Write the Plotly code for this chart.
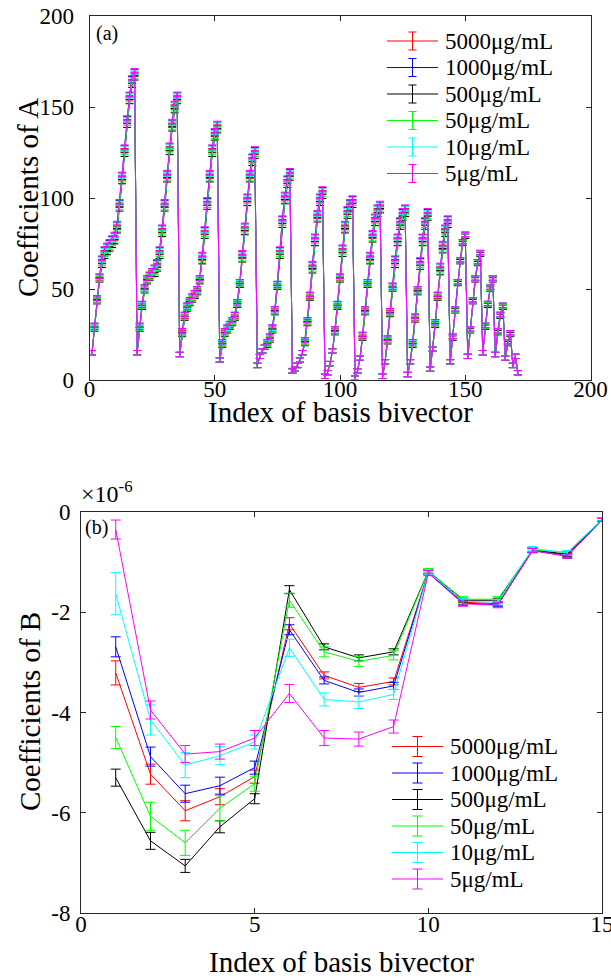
import plotly.graph_objects as go

FONT = "Liberation Serif"
W, H = 611, 978

series_labels = ["5000μg/mL", "1000μg/mL", "500μg/mL", "50μg/mL", "10μg/mL", "5μg/mL"]
series_colors = ["#ff0000", "#0000ff", "#000000", "#00ff00", "#00ffff", "#ff00ff"]

# ---------------- panel (a): coefficients of A ----------------
index_a = list(range(1, 172))

coef_a_5000 = [
    15, 29, 44, 56, 65, 70, 72, 74, 76, 78, 84, 96, 111, 126, 142, 155, 164, 168,
    15, 29, 41, 50, 55, 57, 59, 60, 63, 70, 82, 96, 112, 127, 140, 150, 155,
    14, 26, 35, 40, 43, 45, 47, 49, 55, 67, 81, 97, 112, 126, 135, 139,
    11, 20, 26, 28, 30, 32, 35, 42, 53, 68, 83, 99, 112, 121, 125,
    8, 13, 16, 18, 20, 23, 28, 38, 52, 70, 87, 100, 109, 113,
    5, 6, 8, 11, 15, 21, 32, 46, 62, 77, 90, 99, 103,
    2, 4, 9, 16, 27, 41, 56, 71, 84, 92, 96, 98,
    1, 5, 12, 24, 38, 53, 67, 79, 88, 93, 95,
    2, 10, 22, 37, 51, 65, 77, 86, 91, 93,
    3, 10, 20, 34, 49, 64, 77, 86, 91,
    6, 17, 31, 46, 61, 73, 82, 87,
    10, 24, 39, 54, 66, 76, 80,
    13, 28, 44, 56, 65, 70,
    15, 30, 42, 51, 56,
    14, 27, 36, 41,
    12, 21, 26,
    8, 13,
    4,
]
coef_a_1000 = [
    15, 30, 45, 57, 66.5, 71.5, 73.5, 75.5, 77.5, 79.5, 85.5, 97.5, 112.5, 127.5, 143.5, 156.5, 165.5, 169.5,
    15, 30, 42, 51, 56, 58, 60, 61.5, 64.5, 71.5, 83.5, 97.5, 113.5, 128.5, 141.5, 151.5, 156.5,
    14, 27, 36, 41, 44, 46, 48, 50, 56, 68.5, 82.5, 98.5, 113.5, 127.5, 136.5, 140.5,
    11, 21, 27, 29, 31, 33, 36, 43, 54, 69.5, 84.5, 100.5, 113.5, 122.5, 126.5,
    8, 13, 16, 18, 21, 24, 29, 39, 53, 71.5, 88.5, 101.5, 110.5, 114.5,
    5, 6, 8, 11, 15, 22, 33, 47, 63.5, 78.5, 91.5, 100.5, 104.5,
    2, 4, 9, 16, 28, 42, 57, 72.5, 85.5, 93.5, 97.5, 99.5,
    1, 5, 12, 25, 39, 54, 68.5, 80.5, 89.5, 94.5, 96.5,
    2, 10, 23, 38, 52, 66.5, 78.5, 87.5, 92.5, 94.5,
    3, 10, 21, 35, 50, 65.5, 78.5, 87.5, 92.5,
    6, 17, 32, 47, 62.5, 74.5, 83.5, 88.5,
    10, 24, 39, 54, 66, 76, 80,
    13, 28, 44, 56, 65, 70,
    15, 30, 42, 51, 56,
    14, 27, 36, 41,
    12, 21, 26,
    8, 13,
    4,
]
coef_a_500 = [
    15, 28, 43, 55, 63, 68, 70, 72, 74, 76, 82, 94, 109, 124, 140, 153, 162, 166,
    15, 28, 40, 49, 54, 56, 58, 58, 61, 68, 80, 94, 110, 125, 138, 148, 153,
    14, 25, 34, 39, 42, 44, 46, 48, 54, 65, 79, 95, 110, 124, 133, 137,
    11, 19, 25, 27, 29, 31, 34, 41, 52, 66, 81, 97, 110, 119, 123,
    8, 13, 16, 18, 19, 22, 27, 37, 51, 68, 85, 98, 107, 111,
    5, 6, 8, 11, 15, 20, 31, 45, 60, 75, 88, 97, 101,
    2, 4, 9, 16, 26, 40, 55, 69, 82, 90, 94, 96,
    1, 5, 12, 23, 37, 52, 65, 77, 86, 91, 93,
    2, 10, 21, 36, 50, 63, 75, 84, 89, 91,
    3, 10, 19, 33, 48, 62, 75, 84, 89,
    6, 17, 30, 45, 59, 71, 80, 85,
    10, 23, 38, 53, 65, 75, 79,
    13, 27, 43, 55, 64, 69,
    15, 29, 41, 50, 55,
    14, 26, 35, 40,
    12, 20, 25,
    8, 13,
    4,
]
coef_a_50 = [
    15, 28.5, 43.5, 55.5, 64, 69, 71, 73, 75, 77, 83, 95, 110, 125, 141, 154, 163, 167,
    15, 28.5, 40.5, 49.5, 54.5, 56.5, 58.5, 59, 62, 69, 81, 95, 111, 126, 139, 149, 154,
    14, 25.5, 34.5, 39.5, 42.5, 44.5, 46.5, 48.5, 54.5, 66, 80, 96, 111, 125, 134, 138,
    11, 19.5, 25.5, 27.5, 29.5, 31.5, 34.5, 41.5, 52.5, 67, 82, 98, 111, 120, 124,
    8, 13, 16, 18, 19.5, 22.5, 27.5, 37.5, 51.5, 69, 86, 99, 108, 112,
    5, 6, 8, 11, 15, 20.5, 31.5, 45.5, 61, 76, 89, 98, 102,
    2, 4, 9, 16, 26.5, 40.5, 55.5, 70, 83, 91, 95, 97,
    1, 5, 12, 23.5, 37.5, 52.5, 66, 78, 87, 92, 94,
    2, 10, 21.5, 36.5, 50.5, 64, 76, 85, 90, 92,
    3, 10, 19.5, 33.5, 48.5, 63, 76, 85, 90,
    6, 17, 30.5, 45.5, 60, 72, 81, 86,
    10, 23.5, 38.5, 53.5, 65.5, 75.5, 79.5,
    13, 27.5, 43.5, 55.5, 64.5, 69.5,
    15, 29.5, 41.5, 50.5, 55.5,
    14, 26.5, 35.5, 40.5,
    12, 20.5, 25.5,
    8, 13,
    4,
]
coef_a_10 = [
    15, 29.5, 44.5, 56.5, 66, 71, 73, 75, 77, 79, 85, 97, 112, 127, 143, 156, 165, 169,
    15, 29.5, 41.5, 50.5, 55.5, 57.5, 59.5, 61, 64, 71, 83, 97, 113, 128, 141, 151, 156,
    14, 26.5, 35.5, 40.5, 43.5, 45.5, 47.5, 49.5, 55.5, 68, 82, 98, 113, 127, 136, 140,
    11, 20.5, 26.5, 28.5, 30.5, 32.5, 35.5, 42.5, 53.5, 69, 84, 100, 113, 122, 126,
    8, 13, 16, 18, 20.5, 23.5, 28.5, 38.5, 52.5, 71, 88, 101, 110, 114,
    5, 6, 8, 11, 15, 21.5, 32.5, 46.5, 63, 78, 91, 100, 104,
    2, 4, 9, 16, 27.5, 41.5, 56.5, 72, 85, 93, 97, 99,
    1, 5, 12, 24.5, 38.5, 53.5, 68, 80, 89, 94, 96,
    2, 10, 22.5, 37.5, 51.5, 66, 78, 87, 92, 94,
    3, 10, 20.5, 34.5, 49.5, 65, 78, 87, 92,
    6, 17, 31.5, 46.5, 62, 74, 83, 88,
    10, 24, 39, 54, 66, 76, 80,
    13, 28, 44, 56, 65, 70,
    15, 30, 42, 51, 56,
    14, 27, 36, 41,
    12, 21, 26,
    8, 13,
    4,
]
coef_a_5 = [
    15, 30, 45, 57, 67, 72, 74, 76, 78, 80, 86, 98, 113, 128, 144, 157, 166, 170,
    15, 30, 42, 51, 56, 58, 60, 62, 65, 72, 84, 98, 114, 129, 142, 152, 157,
    14, 27, 36, 41, 44, 46, 48, 50, 56, 69, 83, 99, 114, 128, 137, 141,
    11, 21, 27, 29, 31, 33, 36, 43, 54, 70, 85, 101, 114, 123, 127,
    8, 13, 16, 18, 21, 24, 29, 39, 53, 72, 89, 102, 111, 115,
    5, 6, 8, 11, 15, 22, 33, 47, 64, 79, 92, 101, 105,
    2, 4, 9, 16, 28, 42, 57, 73, 86, 94, 98, 100,
    1, 5, 12, 25, 39, 54, 69, 81, 90, 95, 97,
    2, 10, 23, 38, 52, 67, 79, 88, 93, 95,
    3, 10, 21, 35, 50, 66, 79, 88, 93,
    6, 17, 32, 47, 63, 75, 84, 89,
    10, 24, 39, 54, 66, 76, 80,
    13, 28, 44, 56, 65, 70,
    15, 30, 42, 51, 56,
    14, 27, 36, 41,
    12, 21, 26,
    8, 13,
    4,
]
coef_a_err = 1.2  # half-width of the error bars in panel (a)

# ---------------- panel (b): coefficients of B (x 1e-6) ----------------
index_b = list(range(1, 16))

coef_b_5000 = [-3.21, -5.23, -5.96, -5.68, -5.28, -2.23, -3.26, -3.50, -3.38, -1.20, -1.80, -1.83, -0.76, -0.86, -0.15]
coef_b_1000 = [-2.69, -4.88, -5.62, -5.46, -5.10, -2.35, -3.36, -3.60, -3.47, -1.21, -1.82, -1.85, -0.77, -0.88, -0.16]
coef_b_500 = [-5.30, -6.56, -7.06, -6.28, -5.72, -1.55, -2.69, -2.91, -2.79, -1.18, -1.76, -1.76, -0.76, -0.84, -0.15]
coef_b_50 = [-4.50, -6.07, -6.60, -5.91, -5.42, -1.76, -2.79, -2.98, -2.86, -1.18, -1.74, -1.74, -0.75, -0.81, -0.15]
coef_b_10 = [-1.63, -4.15, -5.05, -4.86, -4.59, -2.71, -3.74, -3.79, -3.64, -1.20, -1.78, -1.80, -0.73, -0.81, -0.15]
coef_b_5 = [-0.35, -3.95, -4.83, -4.78, -4.51, -3.62, -4.51, -4.53, -4.28, -1.22, -1.83, -1.86, -0.77, -0.88, -0.16]

err_b_5000 = [0.24, 0.20, 0.20, 0.16, 0.13, 0.12, 0.07, 0.08, 0.07, 0.04, 0.04, 0.04, 0.04, 0.04, 0.03]
err_b_1000 = [0.20, 0.19, 0.17, 0.17, 0.13, 0.10, 0.07, 0.07, 0.07, 0.04, 0.04, 0.04, 0.04, 0.04, 0.03]
err_b_500 = [0.17, 0.17, 0.13, 0.12, 0.10, 0.08, 0.06, 0.06, 0.06, 0.04, 0.04, 0.04, 0.04, 0.04, 0.03]
err_b_50 = [0.22, 0.28, 0.25, 0.25, 0.15, 0.14, 0.10, 0.10, 0.09, 0.05, 0.05, 0.05, 0.04, 0.04, 0.03]
err_b_10 = [0.42, 0.30, 0.25, 0.18, 0.14, 0.17, 0.13, 0.13, 0.10, 0.05, 0.05, 0.05, 0.04, 0.04, 0.03]
err_b_5 = [0.19, 0.18, 0.17, 0.15, 0.15, 0.18, 0.15, 0.14, 0.13, 0.05, 0.05, 0.05, 0.04, 0.04, 0.03]

a_ticks = [0, 50, 100, 150, 200]
b_xticks = [0, 5, 10, 15]
b_yticks = [-8, -6, -4, -2, 0]
b_yticktext = ["-8", "-6", "-4", "-2", "0"]

coef_a = [coef_a_5000, coef_a_1000, coef_a_500, coef_a_50, coef_a_10, coef_a_5]
coef_b = [coef_b_5000, coef_b_1000, coef_b_500, coef_b_50, coef_b_10, coef_b_5]
err_b = [err_b_5000, err_b_1000, err_b_500, err_b_50, err_b_10, err_b_5]

for s in coef_a:
    assert len(s) == len(index_a), len(s)
for s in coef_b + err_b:
    assert len(s) == len(index_b)


def fx(px):
    return px / W


def fy(py):
    return 1 - py / H


fig = go.Figure()

for vals, col in zip(coef_a, series_colors):
    fig.add_trace(go.Scatter(
        x=index_a, y=vals, mode="lines", xaxis="x", yaxis="y",
        line=dict(color=col, width=1), showlegend=False,
        error_y=dict(type="constant", value=coef_a_err, color=col, thickness=1, width=4),
    ))

for vals, errs, col in zip(coef_b, err_b, series_colors):
    fig.add_trace(go.Scatter(
        x=index_b, y=vals, mode="lines", xaxis="x2", yaxis="y2",
        line=dict(color=col, width=1), showlegend=False,
        error_y=dict(type="data", array=errs, color=col, thickness=1, width=5),
    ))

axis_common = dict(
    showline=True, linecolor="#262626", linewidth=1, mirror="allticks",
    ticks="inside", ticklen=5, tickwidth=1, tickcolor="#262626",
    showgrid=False, zeroline=False, automargin=False,
    ticklabeloverflow="allow",
    tickfont=dict(family=FONT, size=23, color="#000000"),
)

fig.update_layout(
    template="none",
    width=W, height=H, margin=dict(l=0, r=0, t=0, b=0, pad=0), autosize=False,
    paper_bgcolor="white", plot_bgcolor="white",
    font=dict(family=FONT, color="#000000"),
    showlegend=False,
    xaxis=dict(axis_common, domain=[fx(89.5), fx(590.5)], range=[0, 200],
               tickvals=a_ticks, anchor="y", ticklabelstandoff=-12),
    yaxis=dict(axis_common, domain=[fy(380), fy(16)], range=[0, 200],
               tickvals=a_ticks, anchor="x", ticklabelstandoff=10),
    xaxis2=dict(axis_common, domain=[fx(81), fx(602)], range=[0, 15],
                tickvals=b_xticks, anchor="y2", ticklabelstandoff=-10),
    yaxis2=dict(axis_common, domain=[fy(913), fy(512)], range=[-8, 0],
                tickvals=b_yticks, ticktext=b_yticktext, anchor="x2",
                ticklabelstandoff=5),
)

annotations = [
    dict(text="Coefficients of A", x=fx(28), y=fy(198), textangle=-90, font=dict(size=29)),
    dict(text="Index of basis bivector", x=fx(340), y=fy(412), font=dict(size=29)),
    dict(text="Coefficients of B", x=fx(30), y=fy(712), textangle=-90, font=dict(size=29)),
    dict(text="Index of basis bivector", x=fx(341), y=fy(962), font=dict(size=29)),
    dict(text="(a)", x=fx(94), y=fy(20), xanchor="left", yanchor="top", font=dict(size=20)),
    dict(text="(b)", x=fx(83), y=fy(514), xanchor="left", yanchor="top", font=dict(size=20)),
    dict(text="×10<sup>-6</sup>", x=fx(79), y=fy(509), xanchor="left", yanchor="bottom", font=dict(size=24)),
]
for a in annotations:
    a.setdefault("xanchor", "center")
    a.setdefault("yanchor", "middle")
    a.update(xref="paper", yref="paper", showarrow=False)
    a["font"] = dict(family=FONT, color="#000000", **a["font"])

shapes = []
legend_specs = [
    dict(x0=387, x1=438, tx=443, y0=41, dy=26.5, bar=9, cap=4),
    dict(x0=392, x1=443, tx=448, y0=746.5, dy=26.5, bar=10, cap=5),
]
for spec in legend_specs:
    for i, (lab, col) in enumerate(zip(series_labels, series_colors)):
        yc = spec["y0"] + i * spec["dy"]
        xm = (spec["x0"] + spec["x1"]) / 2
        ln = dict(color=col, width=1)
        shapes.append(dict(type="line", xref="paper", yref="paper",
                           x0=fx(spec["x0"]), x1=fx(spec["x1"]), y0=fy(yc), y1=fy(yc), line=ln))
        shapes.append(dict(type="line", xref="paper", yref="paper",
                           x0=fx(xm), x1=fx(xm), y0=fy(yc - spec["bar"]), y1=fy(yc + spec["bar"]), line=ln))
        for yy in (yc - spec["bar"], yc + spec["bar"]):
            shapes.append(dict(type="line", xref="paper", yref="paper",
                               x0=fx(xm - spec["cap"]), x1=fx(xm + spec["cap"]), y0=fy(yy), y1=fy(yy), line=ln))
        annotations.append(dict(text=lab, x=fx(spec["tx"]), y=fy(yc), xref="paper", yref="paper",
                                xanchor="left", yanchor="middle", showarrow=False,
                                font=dict(family=FONT, size=23, color="#000000")))

fig.update_layout(annotations=annotations, shapes=shapes)

fig.write_html(
    "out.html",
    config={"displayModeBar": False},
    post_script="document.body.style.margin='0';document.body.style.overflow='hidden';",
)
